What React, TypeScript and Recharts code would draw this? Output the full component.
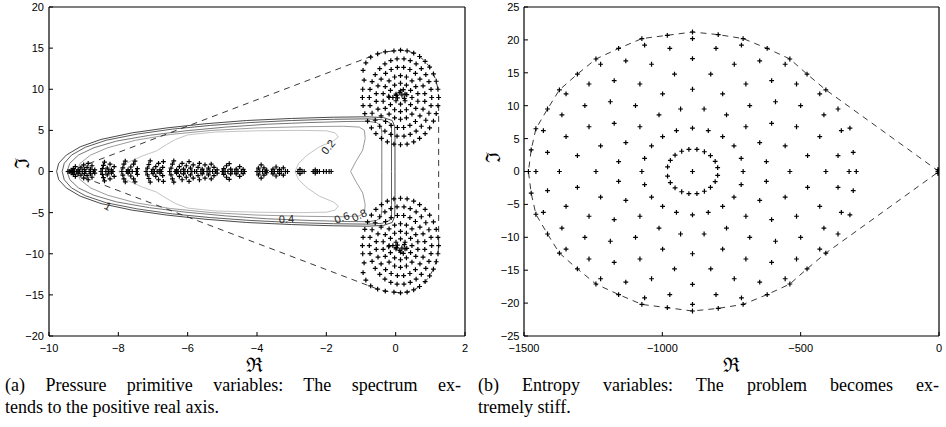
import React from 'react';
import { ScatterChart, Scatter, XAxis, YAxis } from 'recharts';

type P = [number, number];

// ---------- axes ----------
const leftXTicks = [-10, -8, -6, -4, -2, 0, 2];
const leftYTicks = [-20, -15, -10, -5, 0, 5, 10, 15, 20];
const rightXTicks = [-1500, -1000, -500, 0];
const rightYTicks = [-25, -20, -15, -10, -5, 0, 5, 10, 15, 20, 25];

// ---------- (a) pressure primitive variables ----------
// eigenvalues near the negative real axis (upper half incl. axis; conjugates added)
const realAxisUpper: P[] = [
  [-9.45, 0], [-9.4, 0], [-9.36, 0.15], [-9.32, 0], [-9.3, 0.35], [-9.26, 0], [-9.24, 0.6],
  [-9.2, 0], [-9.16, 0.2], [-9.12, 0], [-9.08, 0.45], [-9.04, 0], [-9.0, 0.8], [-8.98, 0.25], [-8.94, 0], [-8.9, 0.5], [-8.87, 1.0], [-8.84, 0], [-8.8, 0.3], [-8.76, 0.7], [-8.72, 0], [-8.68, 0.2],
  [-8.5, 0], [-8.46, 0.35], [-8.43, 0.75], [-8.4, 1.15], [-8.36, 0], [-8.32, 0.4], [-8.28, 0], [-8.24, 0.9], [-8.2, 0.2], [-8.16, 0], [-8.12, 0.6],
  [-7.9, 0], [-7.87, 0.45], [-7.84, 0.9], [-7.8, 1.25], [-7.76, 0], [-7.72, 0.2], [-7.68, 0], [-7.64, 0.55], [-7.6, 0], [-7.56, 0.9], [-7.52, 1.25], [-7.48, 0], [-7.45, 0.35],
  [-7.2, 0], [-7.16, 0.4], [-7.12, 0.85], [-7.08, 1.3], [-7.04, 0], [-7.0, 0.25], [-6.96, 0], [-6.92, 0.6], [-6.88, 0], [-6.84, 1.0], [-6.8, 0.2], [-6.76, 0], [-6.72, 0.5], [-6.7, 1.2],
  [-6.52, 0], [-6.48, 0.4], [-6.44, 0.9], [-6.4, 1.3], [-6.36, 0], [-6.32, 0.2], [-6.28, 0], [-6.24, 0.6], [-6.2, 0], [-6.16, 1.0], [-6.12, 0.3], [-6.08, 0], [-6.04, 0.7], [-6.0, 0], [-5.96, 1.2], [-5.92, 0.4], [-5.88, 0], [-5.84, 0.8], [-5.8, 0],
  [-5.74, 0], [-5.7, 0.5], [-5.66, 1.0], [-5.62, 0], [-5.58, 0.3], [-5.54, 0], [-5.5, 0.8],
  [-5.44, 0], [-5.4, 0.4], [-5.36, 0], [-5.32, 0.9], [-5.28, 0], [-5.24, 0.5], [-5.2, 0], [-5.15, 0.2],
  [-5.0, 0], [-4.96, 0.35], [-4.92, 0], [-4.88, 0.7], [-4.84, 0], [-4.8, 0.95], [-4.76, 0.3], [-4.72, 0],
  [-4.64, 0], [-4.6, 0.3], [-4.55, 0], [-4.5, 0.6], [-4.45, 0], [-4.4, 0.25], [-4.36, 0],
  [-4.0, 0], [-3.96, 0.4], [-3.92, 0], [-3.88, 0.8], [-3.84, 0], [-3.8, 0.45], [-3.76, 0], [-3.72, 0.15],
  [-3.58, 0], [-3.54, 0.3], [-3.5, 0], [-3.45, 0.55], [-3.4, 0], [-3.35, 0.25], [-3.3, 0], [-3.24, 0.45], [-3.18, 0], [-3.12, 0],
  [-2.82, 0], [-2.76, 0.25], [-2.7, 0], [-2.64, 0],
  [-2.38, 0], [-2.32, 0.2], [-2.26, 0], [-2.2, 0],
  [-2.08, 0], [-2.0, 0], [-1.92, 0], [-1.86, 0],
];

// upper disk of eigenvalues (lower disk is its conjugate)
const upperDisk: P[] = [
  [1.24, 9], [1.22, 10.0], [1.17, 10.97], [1.09, 11.88], [0.98, 12.7], [0.85, 13.4], [0.69, 13.98], [0.52, 14.4], [0.33, 14.66],
  [0.14, 14.75], [-0.05, 14.66], [-0.3, 14.55], [-0.52, 14.3], [-0.72, 13.9], [-0.86, 13.2], [-0.94, 12.3], [-0.91, 11.1], [-0.95, 10.0],
  [-0.96, 9], [-0.94, 8.0], [-0.89, 7.03], [-0.81, 6.12], [-0.7, 5.3], [-0.57, 4.6], [-0.41, 4.02], [-0.24, 3.6], [-0.05, 3.34],
  [0.14, 3.25], [0.33, 3.34], [0.52, 3.6], [0.69, 4.02], [0.85, 4.6], [0.98, 5.3], [1.09, 6.12], [1.17, 7.03], [1.22, 8.0],
  [1.04, 9], [1.02, 9.98], [0.96, 10.92], [0.87, 11.77], [0.74, 12.5], [0.59, 13.08], [0.42, 13.48], [0.24, 13.69], [0.04, 13.69],
  [-0.14, 13.48], [-0.31, 13.08], [-0.46, 12.5], [-0.59, 11.77], [-0.68, 10.92], [-0.74, 9.98], [-0.76, 9], [-0.74, 8.02], [-0.68, 7.08],
  [-0.59, 6.23], [-0.46, 5.5], [-0.31, 4.92], [-0.14, 4.52], [0.04, 4.31], [0.24, 4.31], [0.42, 4.52], [0.59, 4.92], [0.74, 5.5],
  [0.87, 6.23], [0.96, 7.08], [1.02, 8.02],
  [0.84, 9.48], [0.79, 10.41], [0.7, 11.24], [0.57, 11.92], [0.41, 12.4], [0.23, 12.65], [0.05, 12.65], [-0.13, 12.4], [-0.29, 11.92],
  [-0.42, 11.24], [-0.51, 10.41], [-0.56, 9.48], [-0.56, 8.52], [-0.51, 7.59], [-0.42, 6.76], [-0.29, 6.08], [-0.13, 5.6], [0.05, 5.35],
  [0.23, 5.35], [0.41, 5.6], [0.57, 6.08], [0.7, 6.76], [0.79, 7.59], [0.84, 8.52],
  [0.64, 9.46], [0.58, 10.32], [0.47, 11.03], [0.31, 11.49], [0.14, 11.65], [-0.03, 11.49], [-0.19, 11.03], [-0.3, 10.32], [-0.36, 9.46],
  [-0.36, 8.54], [-0.3, 7.68], [-0.19, 6.97], [-0.03, 6.51], [0.14, 6.35], [0.31, 6.51], [0.47, 6.97], [0.58, 7.68], [0.64, 8.54],
  [0.47, 9], [0.43, 9.86], [0.31, 10.49], [0.14, 10.73], [-0.03, 10.49], [-0.15, 9.86], [-0.19, 9], [-0.15, 8.14], [-0.03, 7.51],
  [0.14, 7.28], [0.31, 7.51], [0.43, 8.14],
  [0.27, 9.4], [0.14, 9.8], [0.01, 9.4], [0.01, 8.6], [0.14, 8.2], [0.27, 8.6],
  [0.22, 9.95], [0.12, 9.6], [0.02, 9.25], [-0.08, 9.0], [0.05, 8.95], [0.25, 8.9], [0.32, 9.35], [-0.2, 9.15], [0.18, 9.3],
];

// contour lines (upper halves, from left end on the axis to right end on the axis)
const contour10: P[] = [[-9.78, 0], [-9.72, 1.0], [-9.5, 2.0], [-9.1, 3.0], [-8.5, 3.9], [-7.6, 4.7], [-6.6, 5.3], [-5.5, 5.8], [-4.3, 6.2], [-3, 6.45], [-1.8, 6.6], [-0.8, 6.65], [-0.35, 6.55], [-0.1, 6.2], [-0.03, 5.5], [-0.02, 4.0], [-0.02, 0]];
const contour08: P[] = [[-9.62, 0], [-9.56, 1.0], [-9.35, 2.0], [-8.95, 2.95], [-8.35, 3.8], [-7.45, 4.55], [-6.45, 5.15], [-5.35, 5.6], [-4.2, 5.95], [-3, 6.2], [-1.8, 6.35], [-0.8, 6.4], [-0.4, 6.3], [-0.17, 5.95], [-0.12, 5.3], [-0.12, 4.0], [-0.12, 0]];
const contour06: P[] = [[-9.48, 0], [-9.4, 1.0], [-9.15, 2.0], [-8.7, 2.9], [-8.05, 3.7], [-7.1, 4.4], [-6.05, 4.95], [-4.9, 5.4], [-3.7, 5.75], [-2.5, 5.95], [-1.4, 6.08], [-0.8, 6.1], [-0.55, 5.95], [-0.42, 5.5], [-0.4, 4.6], [-0.4, 3.0], [-0.4, 0]];
const contour04: P[] = [[-9.2, 0], [-9.1, 1.0], [-8.8, 2.0], [-8.3, 2.9], [-7.5, 3.8], [-6.5, 4.5], [-5.3, 5.0], [-4.0, 5.3], [-2.6, 5.45], [-1.5, 5.5], [-1.05, 5.4], [-0.9, 5.0], [-0.88, 4.0], [-0.95, 2.6], [-1.15, 1.2], [-1.3, 0]];
const contour02: P[] = [[-8.0, 0], [-7.78, 1.0], [-7.3, 1.9], [-6.9, 2.5], [-6.6, 3.3], [-6.35, 3.9], [-6.0, 4.45], [-5.2, 4.8], [-4.0, 4.95], [-2.8, 5.0], [-2.0, 4.95], [-1.75, 4.7], [-1.65, 4.2], [-1.8, 3.7], [-2.2, 3.0], [-2.55, 2.0], [-2.8, 1.0], [-2.9, 0]];

const contourLevels = [
  { pts: contour10, color: '#4a4a4a' },
  { pts: contour08, color: '#5e5e5e' },
  { pts: contour06, color: '#777777' },
  { pts: contour04, color: '#9c9c9c' },
  { pts: contour02, color: '#c4c4c4' },
];

const contourLabels = [
  { x: -8.3, y: -4.2, text: '1', angle: 30 },
  { x: -3.15, y: -5.75, text: '0.4', angle: -3 },
  { x: -1.55, y: -5.6, text: '0.6', angle: -20 },
  { x: -1.05, y: -5.3, text: '0.8', angle: -25 },
  { x: -1.95, y: 3.0, text: '0.2', angle: -50 },
];

const leftHullUpper: P[] = [[-9.45, 0], [-0.52, 14.3], [-0.3, 14.55], [-0.05, 14.66], [0.14, 14.75], [0.33, 14.66], [0.52, 14.4], [0.69, 13.98], [0.85, 13.4], [0.98, 12.7], [1.09, 11.88], [1.17, 10.97], [1.22, 10.0], [1.24, 9], [1.24, 0]];

// ---------- (b) entropy variables ----------
const rightUpper: P[] = [
  [-891, 21.2], [-982, 20.7], [-798, 20.8], [-1074, 20.2], [-708, 20.2], [-891, 20.2],
  [-1064, 19.2], [-714, 19.2], [-973, 18.7], [-806, 18.7], [-1158, 18.7], [-621, 18.7],
  [-1240, 17.1], [-539, 17.1], [-1223, 16.3], [-556, 16.3], [-1132, 16.8], [-648, 16.8], [-1039, 16.3], [-740, 16.3], [-891, 17.15],
  [-956, 14.8], [-825, 14.8], [-1307, 14.8], [-477, 14.8],
  [-1372, 12.4], [-409, 12.4], [-1348, 11.8], [-431, 11.8], [-1265, 13.3], [-515, 13.3], [-1174, 13.8], [-605, 13.8], [-1081, 13.3], [-698, 13.3], [-999, 11.8], [-782, 11.8], [-891, 12.5],
  [-1415, 9.5], [-365, 9.5], [-1280, 10.0], [-500, 10.0], [-1188, 10.6], [-591, 10.6], [-1097, 10.0], [-684, 10.0], [-1012, 8.6], [-768, 8.6], [-934, 9.5], [-849, 9.5], [-1363, 8.6], [-416, 8.6],
  [-1457, 6.5], [-322, 6.6], [-1430, 6.2], [-353, 6.2], [-1265, 6.8], [-515, 6.8], [-1174, 7.3], [-605, 7.3], [-1081, 6.8], [-698, 6.8], [-999, 5.3], [-782, 5.3], [-949, 6.2], [-834, 6.2], [-891, 6.6], [-1348, 5.3], [-431, 5.3],
  [-1415, 2.9], [-365, 2.4], [-1474, 3.3], [-310, 2.9], [-1307, 2.4], [-475, 2.4], [-1223, 3.9], [-556, 3.9], [-1132, 4.4], [-648, 4.4], [-1039, 3.9], [-741, 3.9], [-1064, 2.0], [-715, 2.0], [-1158, 1.5], [-624, 1.5],
  [-1484, 0], [-1457, 0], [-1372, 0], [-1240, 0], [-1074, 0], [-891, 0], [-708, 0], [-539, 0], [-409, 0], [-325, 0], [-299, 0],
  [-800, 0.6], [-809, 1.55], [-826, 2.4], [-848, 3.0], [-875, 3.35], [-904, 3.37], [-930, 3.08], [-954, 2.49], [-971, 1.7], [-981, 0.7],
  [0, 0], [-4, 0], [0, 0.3], [-4, 0.3],
];

const rightHullUpper: P[] = [[0, 0], [-409, 12.4], [-477, 14.8], [-539, 17.1], [-621, 18.7], [-708, 20.2], [-798, 20.8], [-891, 21.2], [-982, 20.7], [-1074, 20.2], [-1158, 18.7], [-1240, 17.1], [-1307, 14.8], [-1372, 12.4], [-1415, 9.5], [-1457, 6.5], [-1474, 3.3], [-1484, 0]];

const captionA = ['(a) Pressure primitive variables: The spectrum ex-', 'tends to the positive real axis.'];
const captionB = ['(b) Entropy variables: The problem becomes ex-', 'tremely stiff.'];

// ---------- helpers ----------
const toObj = (pts: P[]) => pts.map(([x, y]) => ({ x, y }));
const withConjugates = (pts: P[]): P[] => [...pts, ...pts.filter((p) => p[1] !== 0).map(([x, y]) => [x, -y] as P)];
const closedFromUpper = (upper: P[]): P[] => [...upper, ...upper.slice().reverse().map(([x, y]) => [x, -y] as P)];
const fmt = (v: number) => String(v).replace('-', '\u2212');

const Plus = (props: any) => {
  const { cx, cy } = props;
  if (cx == null || cy == null) return <g />;
  return <path d={`M${cx - 2.4},${cy}H${cx + 2.4}M${cx},${cy - 2.4}V${cy + 2.4}`} stroke="#000" strokeWidth={1.2} fill="none" />;
};
const NoShape = () => <g />;
const LabelShape = (p: any) => (
  <text
    x={p.cx}
    y={p.cy}
    transform={`rotate(${p.payload.angle} ${p.cx} ${p.cy})`}
    textAnchor="middle"
    dominantBaseline="central"
    fontSize={11}
    fontFamily="Liberation Sans, Arial, sans-serif"
    fill="#222"
  >
    {p.payload.text}
  </text>
);

const axisLine = { stroke: '#000', strokeWidth: 1.2 };
const tickLine = { stroke: '#000', strokeWidth: 1 };
const tickStyle = { fontSize: 11, fill: '#000', fontFamily: 'Liberation Sans, Arial, sans-serif' };

const Frame = (xDomain: [number, number], yDomain: [number, number], xTicks: number[], yTicks: number[], yWidth: number, yMargin: number) => [
  <XAxis key="xb" xAxisId="b" type="number" dataKey="x" domain={xDomain} ticks={xTicks} allowDataOverflow interval={0} height={24}
    tickSize={-4} tickMargin={12} tickFormatter={fmt} axisLine={axisLine} tickLine={tickLine} tick={tickStyle} />,
  <XAxis key="xt" xAxisId="t" orientation="top" type="number" dataKey="x" domain={xDomain} ticks={xTicks} allowDataOverflow interval={0} height={1}
    tickSize={-4} tick={false} axisLine={axisLine} tickLine={tickLine} />,
  <YAxis key="yl" yAxisId="l" type="number" dataKey="y" domain={yDomain} ticks={yTicks} allowDataOverflow interval={0} width={yWidth}
    tickSize={-4} tickMargin={yMargin} tickFormatter={fmt} axisLine={axisLine} tickLine={tickLine} tick={tickStyle} />,
  <YAxis key="yr" yAxisId="r" orientation="right" type="number" dataKey="y" domain={yDomain} ticks={yTicks} allowDataOverflow interval={0} width={1}
    tickSize={-4} tick={false} axisLine={axisLine} tickLine={tickLine} />,
];

const captionStyle: React.CSSProperties = {
  position: 'absolute',
  fontFamily: '"Liberation Serif", "Times New Roman", serif',
  fontSize: 18,
  lineHeight: '22px',
  color: '#000',
  whiteSpace: 'nowrap',
};

const frakStyle: React.CSSProperties = {
  position: 'absolute',
  fontFamily: '"DejaVu Serif", serif',
  fontSize: 20,
  lineHeight: '16px',
  color: '#000',
};

export default function App() {
  const leftPoints = toObj([...withConjugates(realAxisUpper), ...upperDisk, ...upperDisk.map(([x, y]) => [x, -y] as P)]);
  const rightPoints = toObj(withConjugates(rightUpper));
  return (
    <div style={{ position: 'absolute', left: 0, top: 0, width: 946, height: 427, background: '#fff', overflow: 'hidden' }}>
      <div style={{ position: 'absolute', left: 0, top: 0 }}>
        <ScatterChart width={480} height={360} margin={{ top: 6, right: 14, bottom: 0, left: 0 }}>
          {Frame([-10, 2], [-20, 20], leftXTicks, leftYTicks, 49, 9)}
          {contourLevels.map((c, i) => (
            <Scatter key={`c${i}`} xAxisId="b" yAxisId="l" data={toObj(closedFromUpper(c.pts))} shape={NoShape}
              line={{ stroke: c.color, strokeWidth: 1 }} fill={c.color} isAnimationActive={false} />
          ))}
          <Scatter xAxisId="b" yAxisId="l" data={toObj(closedFromUpper(leftHullUpper))} shape={NoShape}
            line={{ stroke: '#222', strokeWidth: 0.9, strokeDasharray: '6 5' }} fill="#222" isAnimationActive={false} />
          <Scatter xAxisId="b" yAxisId="l" data={leftPoints} shape={Plus} fill="#000" isAnimationActive={false} />
          <Scatter xAxisId="b" yAxisId="l" data={contourLabels} shape={LabelShape} fill="#222" isAnimationActive={false} />
        </ScatterChart>
      </div>
      <div style={{ position: 'absolute', left: 470, top: 0 }}>
        <ScatterChart width={476} height={360} margin={{ top: 6, right: 6, bottom: 0, left: 0 }}>
          {Frame([-1500, 0], [-25, 25], rightXTicks, rightYTicks, 54, 8.5)}
          <Scatter xAxisId="b" yAxisId="l" data={toObj(closedFromUpper(rightHullUpper))} shape={NoShape}
            line={{ stroke: '#222', strokeWidth: 0.9, strokeDasharray: '6 5' }} fill="#222" isAnimationActive={false} />
          <Scatter xAxisId="b" yAxisId="l" data={rightPoints} shape={Plus} fill="#000" isAnimationActive={false} />
        </ScatterChart>
      </div>

      <div style={{ ...frakStyle, left: 244, top: 357, width: 20, textAlign: 'center' }}>ℜ</div>
      <div style={{ ...frakStyle, left: 721, top: 357, width: 20, textAlign: 'center' }}>ℜ</div>
      <div style={{ ...frakStyle, left: 12, top: 155, width: 20, textAlign: 'center', transform: 'rotate(-90deg)' }}>ℑ</div>
      <div style={{ ...frakStyle, left: 483, top: 149, width: 20, textAlign: 'center', transform: 'rotate(-90deg)' }}>ℑ</div>

      <div style={{ ...captionStyle, left: 5, top: 374, width: 456, whiteSpace: 'normal', textAlign: 'justify', textAlignLast: 'justify' }}>{captionA[0]}</div>
      <div style={{ ...captionStyle, left: 5, top: 396 }}>{captionA[1]}</div>
      <div style={{ ...captionStyle, left: 478, top: 374, width: 461, whiteSpace: 'normal', textAlign: 'justify', textAlignLast: 'justify' }}>{captionB[0]}</div>
      <div style={{ ...captionStyle, left: 478, top: 396 }}>{captionB[1]}</div>
    </div>
  );
}
